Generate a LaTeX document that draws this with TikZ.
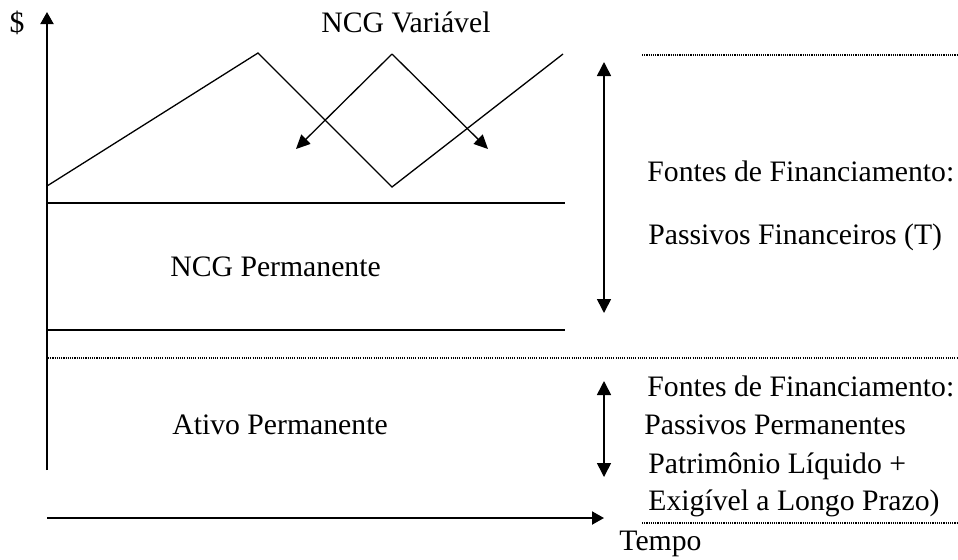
\documentclass[tikz,border=0pt]{standalone}
\usepackage{fontspec}
\setmainfont{Liberation Serif}
\usetikzlibrary{arrows.meta}
\tikzset{axis/.style={black,line width=1pt,-{Triangle[length=6pt,width=6.5pt]}}}
\tikzset{ncg/.style={black,line width=0.65pt}}
\tikzset{level/.style={black,line width=1pt}}
\tikzset{limit/.style={black,line width=0.6pt,dash pattern=on 0.55pt off 0.55pt}}
\tikzset{span/.style={black,line width=0.8pt,{Triangle[length=7pt,width=7pt]}-{Triangle[length=7pt,width=7pt]}}}
\tikzset{swing/.style={black,line width=0.65pt,-{Triangle[length=7pt,width=6.5pt]}}}
\tikzset{txt/.style={black,inner sep=0pt,anchor=west,text height=0.68em,text depth=0.22em,font=\fontsize{14.85pt}{17pt}\selectfont}}

\begin{document}
\begin{tikzpicture}[x=0.5pt,y=-0.5pt]
    \useasboundingbox (0,0) rectangle (958,559);

    % axes
    \coordinate (o) at (47,470);
    \coordinate (ytop) at (47,12);
    \coordinate (x0) at (47,518);
    \coordinate (xend) at (604,518);
    \draw[axis] (o) -- (ytop);
    \draw[axis] (x0) -- (xend);
    \node[txt,anchor=center] (dollar) at (17,28) {\$};
    \node[txt] (tempo) at (619,546) {Tempo};

    % variable part
    \coordinate (v0) at (47,186);
    \coordinate (v1) at (258,53);
    \coordinate (v2) at (392,187);
    \coordinate (v3) at (563,54);
    \draw[ncg] (v0) -- (v1) -- (v2) -- (v3);
    \coordinate (apex) at (392,54);
    \coordinate (sl) at (296,149);
    \coordinate (sr) at (488,149);
    \draw[swing] (apex) -- (sl);
    \draw[swing] (apex) -- (sr);
    \node[txt] (ncgvar) at (321,28) {NCG Variável};

    % permanent levels
    \coordinate (l1a) at (47,203);
    \coordinate (l1b) at (565,203);
    \coordinate (l2a) at (47,330);
    \coordinate (l2b) at (565,330);
    \draw[level] (l1a) -- (l1b);
    \draw[level] (l2a) -- (l2b);
    \node[txt] (ncgperm) at (170,272) {NCG Permanente};
    \node[txt] (ativo) at (172,430) {Ativo Permanente};

    % dotted limits
    \coordinate (d1a) at (642,55);
    \coordinate (d1b) at (958,55);
    \coordinate (d2a) at (48,358);
    \coordinate (d2b) at (958,358);
    \coordinate (d3a) at (642,523);
    \coordinate (d3b) at (958,523);
    \draw[limit] (d1a) -- (d1b);
    \draw[limit] (d2a) -- (d2b);
    \draw[limit] (d3a) -- (d3b);

    % financing sources
    \coordinate (r1a) at (604,62);
    \coordinate (r1b) at (604,313);
    \coordinate (r2a) at (604,381);
    \coordinate (r2b) at (604,477);
    \draw[span] (r1a) -- (r1b);
    \draw[span] (r2a) -- (r2b);
    \node[txt] (fontes1) at (647,177) {Fontes de Financiamento:};
    \node[txt] (passfin) at (648,240) {Passivos Financeiros (T)};
    \node[txt] (fontes2) at (647,392) {Fontes de Financiamento:};
    \node[txt] (passperm) at (644,430) {Passivos Permanentes};
    \node[txt] (pl) at (648,469) {Patrimônio Líquido +};
    \node[txt] (elp) at (648,506) {Exigível a Longo Prazo)};
  \end{tikzpicture}
\end{document}
